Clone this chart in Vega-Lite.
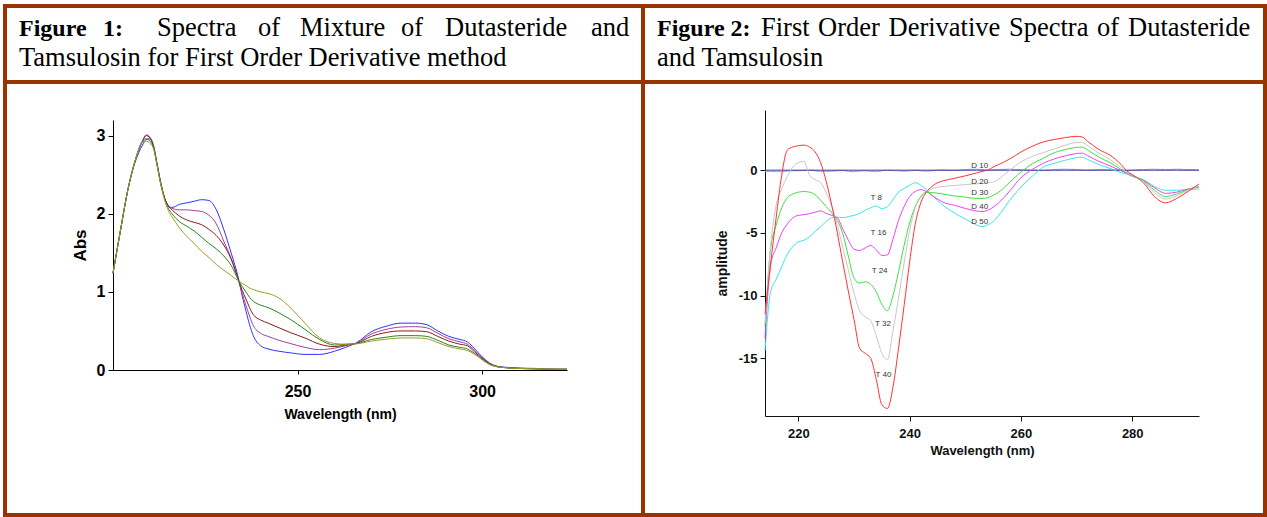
{
  "$schema": "https://vega.github.io/schema/vega-lite/v6.json",
  "background": "white",
  "padding": {"left": 3, "top": 4, "right": 0, "bottom": 0},
  "bounds": "flush",
  "spacing": 0,
  "columns": 2,
  "resolve": {"scale": {"color": "independent"}},
  "config": {
    "view": {"stroke": "#993300", "strokeWidth": 4},
    "axis": {"grid": false, "domainColor": "#111111", "tickColor": "#111111", "labelColor": "#111111", "titleColor": "#111111"}
  },
  "datasets": {
    "h1": [
      {"line": 1, "x": 14, "t": "Figure", "bold": true},
      {"line": 1, "x": 98, "t": "1:", "bold": true},
      {"line": 1, "x": 152, "t": "Spectra", "bold": false},
      {"line": 1, "x": 253, "t": "of", "bold": false},
      {"line": 1, "x": 295, "t": "Mixture", "bold": false},
      {"line": 1, "x": 396, "t": "of", "bold": false},
      {"line": 1, "x": 440, "t": "Dutasteride", "bold": false},
      {"line": 1, "x": 586, "t": "and", "bold": false},
      {"line": 2, "x": 14, "t": "Tamsulosin for First Order Derivative method", "bold": false}
    ],
    "h2": [
      {"line": 1, "x": 14, "t": "Figure 2:", "bold": true},
      {"line": 1, "x": 118, "t": "First", "bold": false},
      {"line": 1, "x": 175, "t": "Order", "bold": false},
      {"line": 1, "x": 245.5, "t": "Derivative", "bold": false},
      {"line": 1, "x": 366, "t": "Spectra", "bold": false},
      {"line": 1, "x": 454, "t": "of", "bold": false},
      {"line": 1, "x": 485, "t": "Dutasteride", "bold": false},
      {"line": 2, "x": 14, "t": "and Tamsulosin", "bold": false}
    ],
    "abs": [
      {"w": 200, "B": 1.24, "P": 1.24, "R": 1.24, "G": 1.24, "O": 1.24},
      {"w": 202, "B": 1.78, "P": 1.78, "R": 1.78, "G": 1.78, "O": 1.78},
      {"w": 204, "B": 2.3, "P": 2.3, "R": 2.3, "G": 2.3, "O": 2.3},
      {"w": 206, "B": 2.66, "P": 2.68, "R": 2.68, "G": 2.68, "O": 2.68},
      {"w": 208, "B": 2.88, "P": 2.93, "R": 2.93, "G": 2.93, "O": 2.92},
      {"w": 209, "B": 2.95, "P": 3.01, "R": 3.0, "G": 2.96, "O": 2.93},
      {"w": 210, "B": 2.96, "P": 2.98, "R": 2.97, "G": 2.93, "O": 2.9},
      {"w": 211, "B": 2.87, "P": 2.86, "R": 2.85, "G": 2.84, "O": 2.83},
      {"w": 212, "B": 2.62, "P": 2.62, "R": 2.62, "G": 2.61, "O": 2.6},
      {"w": 213, "B": 2.38, "P": 2.38, "R": 2.38, "G": 2.37, "O": 2.36},
      {"w": 214, "B": 2.2, "P": 2.2, "R": 2.2, "G": 2.19, "O": 2.17},
      {"w": 215, "B": 2.1, "P": 2.1, "R": 2.1, "G": 2.07, "O": 2.04},
      {"w": 216, "B": 2.08, "P": 2.07, "R": 2.05, "G": 2.0, "O": 1.96},
      {"w": 218, "B": 2.12, "P": 2.05, "R": 1.97, "G": 1.9, "O": 1.82},
      {"w": 220, "B": 2.14, "P": 2.05, "R": 1.92, "G": 1.84, "O": 1.71},
      {"w": 222, "B": 2.16, "P": 2.04, "R": 1.89, "G": 1.78, "O": 1.62},
      {"w": 224, "B": 2.18, "P": 2.03, "R": 1.86, "G": 1.7, "O": 1.52},
      {"w": 226, "B": 2.17, "P": 1.98, "R": 1.8, "G": 1.62, "O": 1.44},
      {"w": 228, "B": 2.05, "P": 1.87, "R": 1.72, "G": 1.55, "O": 1.35},
      {"w": 230, "B": 1.8, "P": 1.65, "R": 1.6, "G": 1.46, "O": 1.28},
      {"w": 232, "B": 1.5, "P": 1.43, "R": 1.42, "G": 1.34, "O": 1.21},
      {"w": 234, "B": 1.17, "P": 1.15, "R": 1.15, "G": 1.15, "O": 1.14},
      {"w": 235, "B": 0.95, "P": 0.98, "R": 1.02, "G": 1.07, "O": 1.11},
      {"w": 236, "B": 0.76, "P": 0.83, "R": 0.91, "G": 1.0, "O": 1.08},
      {"w": 237, "B": 0.58, "P": 0.69, "R": 0.8, "G": 0.93, "O": 1.05},
      {"w": 238, "B": 0.44, "P": 0.57, "R": 0.71, "G": 0.88, "O": 1.03},
      {"w": 240, "B": 0.31, "P": 0.47, "R": 0.64, "G": 0.83, "O": 1.0},
      {"w": 242, "B": 0.27, "P": 0.43, "R": 0.6, "G": 0.8, "O": 0.98},
      {"w": 245, "B": 0.24, "P": 0.38, "R": 0.54, "G": 0.73, "O": 0.92},
      {"w": 248, "B": 0.22, "P": 0.34, "R": 0.48, "G": 0.65, "O": 0.8},
      {"w": 252, "B": 0.2, "P": 0.29, "R": 0.41, "G": 0.52, "O": 0.6},
      {"w": 256, "B": 0.2, "P": 0.26, "R": 0.33, "G": 0.39, "O": 0.41},
      {"w": 260, "B": 0.24, "P": 0.28, "R": 0.3, "G": 0.32, "O": 0.34},
      {"w": 263, "B": 0.29, "P": 0.31, "R": 0.32, "G": 0.33, "O": 0.33},
      {"w": 266, "B": 0.35, "P": 0.345, "R": 0.34, "G": 0.34, "O": 0.335},
      {"w": 270, "B": 0.49, "P": 0.46, "R": 0.43, "G": 0.39, "O": 0.37},
      {"w": 274, "B": 0.56, "P": 0.52, "R": 0.48, "G": 0.42, "O": 0.395},
      {"w": 278, "B": 0.6, "P": 0.55, "R": 0.5, "G": 0.44, "O": 0.41},
      {"w": 282, "B": 0.6, "P": 0.555, "R": 0.5, "G": 0.44, "O": 0.41},
      {"w": 285, "B": 0.58, "P": 0.54, "R": 0.49, "G": 0.43, "O": 0.4},
      {"w": 288, "B": 0.5, "P": 0.47, "R": 0.43, "G": 0.38, "O": 0.35},
      {"w": 291, "B": 0.43, "P": 0.4, "R": 0.37, "G": 0.32, "O": 0.3},
      {"w": 294, "B": 0.39, "P": 0.36, "R": 0.33, "G": 0.29, "O": 0.27},
      {"w": 296, "B": 0.36, "P": 0.33, "R": 0.31, "G": 0.27, "O": 0.25},
      {"w": 298, "B": 0.27, "P": 0.25, "R": 0.23, "G": 0.21, "O": 0.2},
      {"w": 300, "B": 0.17, "P": 0.16, "R": 0.15, "G": 0.14, "O": 0.13},
      {"w": 302, "B": 0.09, "P": 0.085, "R": 0.08, "G": 0.075, "O": 0.07},
      {"w": 305, "B": 0.04, "P": 0.038, "R": 0.036, "G": 0.035, "O": 0.035},
      {"w": 310, "B": 0.025, "P": 0.022, "R": 0.02, "G": 0.02, "O": 0.02},
      {"w": 315, "B": 0.02, "P": 0.015, "R": 0.015, "G": 0.015, "O": 0.015},
      {"w": 320, "B": null, "P": 0.01, "R": 0.01, "G": 0.01, "O": 0.01},
      {"w": 323, "B": null, "P": 0.01, "R": 0.01, "G": 0.01, "O": 0.01}
    ],
    "amp": [
      {"w": 214, "L": -0.1, "Z": 0, "C": -14.4, "M": -13.4, "Gr": -12.5, "Gy": -12.2, "R": -11.5},
      {"w": 215, "L": -0.1, "Z": 0, "C": -9.7, "M": -7.6, "Gr": -6.3, "Gy": -6.0, "R": -7.5},
      {"w": 216, "L": -0.12, "Z": 0, "C": -8.7, "M": -6.2, "Gr": -4.4, "Gy": -2.8, "R": -3.8},
      {"w": 217, "L": -0.12, "Z": 0, "C": -7.7, "M": -5.0, "Gr": -3.0, "Gy": -1.5, "R": -0.4},
      {"w": 218, "L": -0.08, "Z": 0, "C": -6.7, "M": -4.3, "Gr": -2.2, "Gy": -0.5, "R": 1.6},
      {"w": 219, "L": -0.05, "Z": 0, "C": -6.1, "M": -3.8, "Gr": -1.9, "Gy": 0.25, "R": 1.85},
      {"w": 220, "L": -0.05, "Z": 0, "C": -5.7, "M": -3.6, "Gr": -1.75, "Gy": 0.6, "R": 1.95},
      {"w": 221, "L": -0.02, "Z": 0, "C": -5.6, "M": -3.55, "Gr": -1.7, "Gy": 0.7, "R": 2.0},
      {"w": 222, "L": 0, "Z": 0, "C": -5.3, "M": -3.47, "Gr": -1.75, "Gy": -0.4, "R": 1.85},
      {"w": 223, "L": -0.05, "Z": 0, "C": -4.9, "M": -3.35, "Gr": -1.95, "Gy": -0.75, "R": 1.45},
      {"w": 224, "L": -0.1, "Z": 0, "C": -4.5, "M": -3.24, "Gr": -2.4, "Gy": -1.0, "R": 0.6},
      {"w": 225, "L": -0.12, "Z": 0, "C": -4.1, "M": -3.45, "Gr": -2.9, "Gy": -1.8, "R": -0.9},
      {"w": 226, "L": -0.08, "Z": 0, "C": -3.8, "M": -3.6, "Gr": -3.4, "Gy": -2.9, "R": -2.8},
      {"w": 227, "L": -0.05, "Z": 0, "C": -3.75, "M": -3.8, "Gr": -4.0, "Gy": -4.4, "R": -5.0},
      {"w": 228, "L": -0.03, "Z": 0, "C": -3.78, "M": -4.7, "Gr": -5.1, "Gy": -6.2, "R": -7.4},
      {"w": 229, "L": -0.1, "Z": 0, "C": -3.7, "M": -5.6, "Gr": -6.9, "Gy": -8.0, "R": -9.7},
      {"w": 230, "L": -0.12, "Z": 0, "C": -3.6, "M": -6.3, "Gr": -8.6, "Gy": -9.8, "R": -11.9},
      {"w": 231, "L": -0.08, "Z": 0, "C": -3.45, "M": -6.4, "Gr": -9.0, "Gy": -11.2, "R": -14.2},
      {"w": 232, "L": -0.05, "Z": 0, "C": -3.2, "M": -6.2, "Gr": -8.9, "Gy": -11.7, "R": -14.6},
      {"w": 233, "L": -0.1, "Z": 0, "C": -3.0, "M": -6.0, "Gr": -9.1, "Gy": -12.0, "R": -15.0},
      {"w": 234, "L": -0.12, "Z": 0, "C": -2.85, "M": -6.35, "Gr": -9.7, "Gy": -13.2, "R": -16.7},
      {"w": 235, "L": -0.05, "Z": 0, "C": -3.06, "M": -6.8, "Gr": -10.7, "Gy": -14.6, "R": -18.7},
      {"w": 236, "L": 0, "Z": 0, "C": -2.9, "M": -6.75, "Gr": -11.2, "Gy": -15.1, "R": -19.0},
      {"w": 237, "L": -0.03, "Z": 0, "C": -2.35, "M": -5.5, "Gr": -10.0, "Gy": -12.8, "R": -17.3},
      {"w": 238, "L": -0.05, "Z": 0, "C": -1.75, "M": -4.0, "Gr": -8.1, "Gy": -10.2, "R": -14.2},
      {"w": 239, "L": -0.08, "Z": 0, "C": -1.45, "M": -2.9, "Gr": -6.0, "Gy": -7.4, "R": -10.8},
      {"w": 240, "L": -0.05, "Z": 0, "C": -1.2, "M": -2.1, "Gr": -4.2, "Gy": -4.8, "R": -7.3},
      {"w": 241, "L": 0, "Z": 0, "C": -1.0, "M": -1.7, "Gr": -2.9, "Gy": -3.0, "R": -4.3},
      {"w": 242, "L": -0.05, "Z": 0, "C": -1.2, "M": -1.55, "Gr": -2.1, "Gy": -2.2, "R": -2.6},
      {"w": 243, "L": -0.08, "Z": 0, "C": -1.55, "M": -1.7, "Gr": -1.75, "Gy": -1.75, "R": -1.75},
      {"w": 244, "L": -0.05, "Z": 0, "C": -2.0, "M": -2.0, "Gr": -1.78, "Gy": -1.5, "R": -1.3},
      {"w": 245, "L": 0, "Z": 0, "C": -2.4, "M": -2.3, "Gr": -1.83, "Gy": -1.35, "R": -1.0},
      {"w": 246, "L": 0.02, "Z": 0, "C": -2.8, "M": -2.55, "Gr": -1.9, "Gy": -1.3, "R": -0.85},
      {"w": 248, "L": -0.03, "Z": 0, "C": -3.4, "M": -2.8, "Gr": -2.05, "Gy": -1.22, "R": -0.65},
      {"w": 250, "L": 0.05, "Z": 0, "C": -3.9, "M": -3.05, "Gr": -2.15, "Gy": -1.15, "R": -0.45},
      {"w": 252, "L": 0.08, "Z": 0, "C": -4.35, "M": -3.25, "Gr": -2.25, "Gy": -1.08, "R": -0.22},
      {"w": 253, "L": 0.05, "Z": 0, "C": -4.5, "M": -3.3, "Gr": -2.25, "Gy": -1.05, "R": -0.1},
      {"w": 254, "L": 0, "Z": 0, "C": -4.35, "M": -3.2, "Gr": -2.2, "Gy": -1.0, "R": 0.0},
      {"w": 255, "L": 0.03, "Z": 0, "C": -4.1, "M": -2.95, "Gr": -2.0, "Gy": -0.95, "R": 0.25},
      {"w": 256, "L": 0.06, "Z": 0, "C": -3.6, "M": -2.6, "Gr": -1.75, "Gy": -0.7, "R": 0.45},
      {"w": 258, "L": 0.08, "Z": 0, "C": -2.4, "M": -1.65, "Gr": -0.95, "Gy": 0.0, "R": 0.9},
      {"w": 260, "L": 0.03, "Z": 0, "C": -1.35, "M": -0.6, "Gr": -0.15, "Gy": 0.65, "R": 1.45},
      {"w": 262, "L": 0, "Z": 0, "C": -0.5, "M": 0.05, "Gr": 0.5, "Gy": 1.1, "R": 1.9},
      {"w": 264, "L": -0.03, "Z": 0, "C": 0.25, "M": 0.55, "Gr": 0.95, "Gy": 1.4, "R": 2.25},
      {"w": 266, "L": 0.05, "Z": 0, "C": 0.55, "M": 0.9, "Gr": 1.4, "Gy": 1.7, "R": 2.45},
      {"w": 268, "L": 0.08, "Z": 0, "C": 0.8, "M": 1.15, "Gr": 1.65, "Gy": 2.0, "R": 2.6},
      {"w": 270, "L": 0.05, "Z": 0, "C": 1.0, "M": 1.33, "Gr": 1.82, "Gy": 2.2, "R": 2.7},
      {"w": 271, "L": 0.02, "Z": 0, "C": 1.04, "M": 1.36, "Gr": 1.84, "Gy": 2.2, "R": 2.65},
      {"w": 272, "L": 0, "Z": 0, "C": 0.85, "M": 1.15, "Gr": 1.6, "Gy": 1.95, "R": 2.3},
      {"w": 274, "L": 0.05, "Z": 0, "C": 0.45, "M": 0.7, "Gr": 1.05, "Gy": 1.35, "R": 1.65},
      {"w": 276, "L": 0.03, "Z": 0, "C": 0.15, "M": 0.35, "Gr": 0.6, "Gy": 0.85, "R": 1.2},
      {"w": 278, "L": 0, "Z": 0, "C": -0.2, "M": -0.05, "Gr": 0.05, "Gy": 0.2, "R": 0.45},
      {"w": 279, "L": -0.03, "Z": 0, "C": -0.3, "M": -0.25, "Gr": -0.2, "Gy": -0.15, "R": -0.05},
      {"w": 280, "L": 0, "Z": 0, "C": -0.5, "M": -0.45, "Gr": -0.4, "Gy": -0.4, "R": -0.35},
      {"w": 282, "L": 0.05, "Z": 0, "C": -0.75, "M": -0.8, "Gr": -0.85, "Gy": -0.9, "R": -1.0},
      {"w": 284, "L": 0.08, "Z": 0, "C": -1.3, "M": -1.4, "Gr": -1.6, "Gy": -1.8, "R": -2.1},
      {"w": 286, "L": 0.05, "Z": 0, "C": -1.6, "M": -1.85, "Gr": -2.1, "Gy": -2.3, "R": -2.6},
      {"w": 288, "L": 0.08, "Z": 0, "C": -1.6, "M": -1.75, "Gr": -1.9, "Gy": -2.05, "R": -2.25},
      {"w": 290, "L": 0.05, "Z": 0, "C": -1.55, "M": -1.5, "Gr": -1.55, "Gy": -1.6, "R": -1.7},
      {"w": 292, "L": 0.02, "Z": 0, "C": -1.5, "M": -1.35, "Gr": -1.3, "Gy": -1.25, "R": -1.1}
    ],
    "lab": [
      {"t": "T 8", "w": 234, "a": -2.2},
      {"t": "T 16", "w": 234.4, "a": -5.0},
      {"t": "T 24", "w": 234.6, "a": -8.0},
      {"t": "T 32", "w": 235.2, "a": -12.3},
      {"t": "T 40", "w": 235.3, "a": -16.3},
      {"t": "D 10", "w": 252.6, "a": 0.35},
      {"t": "D 20", "w": 252.6, "a": -0.93},
      {"t": "D 30", "w": 252.6, "a": -1.78},
      {"t": "D 40", "w": 252.6, "a": -2.93},
      {"t": "D 50", "w": 252.6, "a": -4.13}
    ]
  },
  "concat": [
    {
      "width": 638, "height": 76,
      "data": {"name": "h1"},
      "encoding": {
        "x": {"field": "x", "type": "quantitative", "scale": {"domain": [0, 638], "nice": false, "zero": false}, "axis": null},
        "y": {"field": "line", "type": "ordinal", "scale": {"range": [30, 60], "padding": 0}, "axis": null},
        "text": {"field": "t"}
      },
      "layer": [
        {"transform": [{"filter": "datum.bold"}], "mark": {"type": "text", "align": "left", "baseline": "alphabetic", "font": "Liberation Serif", "fontSize": 24, "fontWeight": "bold", "color": "black"}},
        {"transform": [{"filter": "!datum.bold"}], "mark": {"type": "text", "align": "left", "baseline": "alphabetic", "font": "Liberation Serif", "fontSize": 26.5, "color": "black"}}
      ]
    },
    {
      "width": 622, "height": 76,
      "data": {"name": "h2"},
      "encoding": {
        "x": {"field": "x", "type": "quantitative", "scale": {"domain": [0, 622], "nice": false, "zero": false}, "axis": null},
        "y": {"field": "line", "type": "ordinal", "scale": {"range": [30, 60], "padding": 0}, "axis": null},
        "text": {"field": "t"}
      },
      "layer": [
        {"transform": [{"filter": "datum.bold"}], "mark": {"type": "text", "align": "left", "baseline": "alphabetic", "font": "Liberation Serif", "fontSize": 24, "fontWeight": "bold", "color": "black"}},
        {"transform": [{"filter": "!datum.bold"}], "mark": {"type": "text", "align": "left", "baseline": "alphabetic", "font": "Liberation Serif", "fontSize": 26.5, "color": "black"}}
      ]
    },
    {
      "width": 638, "height": 433,
      "data": {"name": "abs"},
      "transform": [{"fold": ["B", "P", "R", "G", "O"], "as": ["s", "a"]}],
      "mark": {"type": "line", "strokeWidth": 1, "interpolate": "monotone"},
      "encoding": {
        "x": {
          "field": "w", "type": "quantitative",
          "scale": {"domain": [200, 323], "range": [108, 562], "nice": false, "zero": false},
          "axis": {"orient": "bottom", "offset": -145, "values": [250, 300], "tickSize": 4, "labelPadding": 9,
                   "labelFont": "Liberation Sans", "labelFontSize": 16, "labelFontWeight": "bold",
                   "title": "Wavelength (nm)", "titleFont": "Liberation Sans", "titleFontSize": 14, "titleFontWeight": "bold", "titlePadding": 8,
                   "domainColor": "black", "tickColor": "black", "labelColor": "black", "titleColor": "black"}
        },
        "y": {
          "field": "a", "type": "quantitative",
          "scale": {"domain": [0, 3.2], "range": [288, 38], "nice": false, "zero": false},
          "axis": {"orient": "left", "offset": -108, "values": [0, 1, 2, 3], "tickSize": 5, "labelPadding": 3,
                   "labelFont": "Liberation Sans", "labelFontSize": 16, "labelFontWeight": "bold",
                   "title": "Abs", "titleFont": "Liberation Sans", "titleFontSize": 17, "titleFontWeight": "bold", "titlePadding": 7,
                   "domainColor": "black", "tickColor": "black", "labelColor": "black", "titleColor": "black"}
        },
        "color": {
          "field": "s", "type": "nominal",
          "scale": {"domain": ["O", "G", "R", "P", "B"], "range": ["#a09a28", "#1f8a1f", "#8b1a1a", "#a040a0", "#3030ff"]},
          "legend": null
        }
      }
    },
    {
      "width": 622, "height": 433,
      "encoding": {
        "x": {
          "field": "w", "type": "quantitative",
          "scale": {"domain": [214, 292], "range": [122, 556], "nice": false, "zero": false},
          "axis": {"orient": "bottom", "offset": -99, "values": [220, 240, 260, 280], "tickSize": 5, "labelPadding": 6,
                   "labelFont": "Liberation Sans", "labelFontSize": 13, "labelFontWeight": "bold",
                   "title": "Wavelength (nm)", "titleFont": "Liberation Sans", "titleFontSize": 13, "titleFontWeight": "bold", "titlePadding": 4}
        },
        "y": {
          "field": "a", "type": "quantitative",
          "scale": {"domain": [-19.6, 4.8], "range": [334, 28], "nice": false, "zero": false},
          "axis": {"orient": "left", "offset": -122, "values": [0, -5, -10, -15], "labelExpr": "'' + datum.value", "tickSize": 5, "labelPadding": 3,
                   "labelFont": "Liberation Sans", "labelFontSize": 13, "labelFontWeight": "bold",
                   "title": "amplitude", "titleFont": "Liberation Sans", "titleFontSize": 14, "titleFontWeight": "bold", "titlePadding": 9}
        }
      },
      "layer": [
        {
          "data": {"name": "amp"},
          "transform": [{"fold": ["L", "Z", "C", "M", "Gr", "Gy", "R"], "as": ["s", "a"]}],
          "mark": {"type": "line", "strokeWidth": 1, "interpolate": "monotone"},
          "encoding": {
            "color": {
              "field": "s", "type": "nominal",
              "scale": {"domain": ["L", "Z", "C", "M", "Gr", "Gy", "R"], "range": ["#a0a0d8", "#333399", "#33e8f0", "#f040f0", "#40e040", "#c8c8c8", "#ff3333"]},
              "legend": null
            }
          }
        },
        {
          "data": {"name": "lab"},
          "mark": {"type": "text", "align": "center", "baseline": "middle", "font": "Liberation Sans", "fontSize": 8, "color": "#333333"},
          "encoding": {"text": {"field": "t"}}
        }
      ]
    }
  ]
}
